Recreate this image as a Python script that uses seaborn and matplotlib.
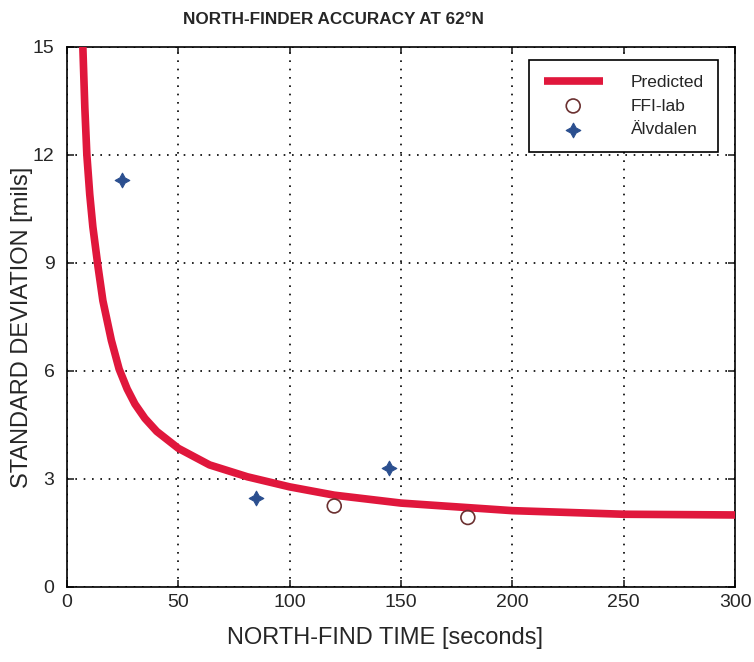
import pandas as pd
import seaborn as sns
import matplotlib.pyplot as plt

# 曲线数据
pred_time = [7.1, 8.0, 8.9, 10.2, 11.6, 13.9, 16.1, 19.9, 23.4, 27, 30.5, 35, 40.3,
             50, 64, 81, 100, 120, 150, 200, 250, 300]
pred_std = [15, 13.3, 12.0, 10.9, 10.0, 8.9, 7.95, 6.85, 6.05, 5.5, 5.08, 4.68, 4.32,
            3.85, 3.39, 3.06, 2.78, 2.55, 2.33, 2.12, 2.02, 2.0]

# 测量点
ffi_time = [120, 180]
ffi_std = [2.25, 1.93]
alv_time = [24.5, 85, 144.5]
alv_std = [11.3, 2.46, 3.3]

x_ticks = [0, 50, 100, 150, 200, 250, 300]
y_ticks = [0, 3, 6, 9, 12, 15]

sns.set_style("ticks")
plt.rcParams['font.family'] = ['Liberation Sans', 'DejaVu Sans']

fig = plt.figure(figsize=(7.54, 6.62), dpi=100)
ax = fig.add_axes([0.0889, 0.1133, 0.886, 0.816])

pred_df = pd.DataFrame({"t": pred_time, "s": pred_std})
sns.lineplot(data=pred_df, x="t", y="s", ax=ax, color="#e0173c", linewidth=5.5,
             label="Predicted", zorder=3, solid_joinstyle="round", solid_capstyle="butt")
sns.scatterplot(x=ffi_time, y=ffi_std, ax=ax, marker="o", s=100, facecolor="none",
                edgecolor="#6b3030", linewidth=1.2, label="FFI-lab", zorder=4)
sns.scatterplot(x=alv_time, y=alv_std, ax=ax, marker=(4, 1, 0), s=110, color="#2b4f8f",
                edgecolor="#2b4f8f", label="Älvdalen", zorder=4)

ax.set_xlim(0, 300)
ax.set_ylim(0, 15)
ax.set_xticks(x_ticks)
ax.set_yticks(y_ticks)
ax.grid(True, linestyle=(0, (1, 4)), color="black", linewidth=1.2)
for sp in ax.spines.values():
    sp.set_visible(True)
    sp.set_color("black")
    sp.set_linewidth(1.2)
ax.tick_params(direction="in", length=5, top=True, right=True, width=1.2, labelsize=14)
ax.tick_params(axis="y", pad=9)
ax.tick_params(axis="x", pad=5)

ax.set_xlabel("")
ax.set_ylabel("")
fig.text(0.511, 0.036, "NORTH-FIND TIME [seconds]", ha="center", va="center", fontsize=17)
fig.text(0.029, 0.505, "STANDARD DEVIATION [mils]", ha="center", va="center", fontsize=17,
         rotation=90)
fig.text(0.4416, 0.971, "NORTH-FINDER ACCURACY AT 62°N", ha="center", va="center",
         fontsize=12.3, fontweight="bold")

leg = ax.legend(loc="upper right", bbox_to_anchor=(0.975, 0.976), fontsize=12.5,
                frameon=True, fancybox=False, edgecolor="black", framealpha=1,
                handlelength=3.4, handletextpad=1.6, borderpad=0.85, labelspacing=0.5,
                borderaxespad=0)
leg.get_frame().set_linewidth(1.2)

plt.savefig("out.png", dpi=100)
